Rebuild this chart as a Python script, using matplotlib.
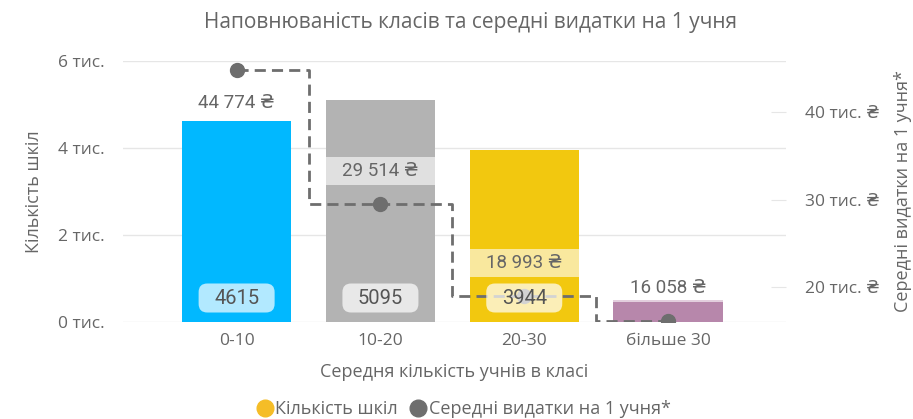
import matplotlib.pyplot as plt
from matplotlib.lines import Line2D
from matplotlib.patches import FancyBboxPatch
from matplotlib.ticker import FuncFormatter

categories = ["0-10", "10-20", "20-30", "більше 30"]
schools = [4615, 5095, 3944, 510]
spending = [44774, 29514, 18993, 16058]
bar_colors = ["#01B8FF", "#B3B3B3", "#F2C80F", "#B787AB"]

left_ticks = [0, 2000, 4000, 6000]
right_ticks = [20000, 30000, 40000]

txt = "#666666"
font = ["Open Sans", "DejaVu Sans"]
num_font = ["Roboto", "DejaVu Sans"]
plt.rcParams["font.family"] = font

fig = plt.figure(figsize=(9.13, 4.19), dpi=100)
ax = fig.add_axes([123 / 913, 1 - 322 / 419, 663 / 913, 261 / 419])
ax2 = ax.twinx()

# bars
bar_w = 0.76
x = list(range(len(categories)))
ax.bar(x, schools, width=bar_w, color=bar_colors, zorder=2)
ax.set_xlim(-0.79, 3.82)
ax.set_ylim(0, 6000)
ax.set_yticks(left_ticks)
ax.yaxis.set_major_formatter(FuncFormatter(lambda v, p: f"{int(v / 1000)} тис."))
ax.grid(axis="y", color="#E6E6E6", linewidth=1, zorder=0)
ax.set_xticks(x)
ax.set_xticklabels(categories)
for s in ax.spines.values():
    s.set_visible(False)
ax.tick_params(axis="both", length=0, colors=txt, labelsize=12.5)
ax.tick_params(axis="y", pad=13)
ax.tick_params(axis="x", pad=8, labelsize=12.5)
ax.set_ylabel("Кількість шкіл", color=txt, fontsize=13, labelpad=11)
ax.set_xlabel("Середня кількість учнів в класі", color=txt, fontsize=13, labelpad=10)

# line on secondary axis
ax2.set_ylim(16000, 45830)
ax2.plot(x, spending, drawstyle="steps-mid", color="#6E6E6E", linewidth=2,
         dashes=(4, 2.2), zorder=3)
ax2.plot(x, spending, "o", color="#6E6E6E", markersize=10, zorder=3)
ax2.set_yticks(right_ticks)
ax2.yaxis.set_major_formatter(FuncFormatter(lambda v, p: f"{int(v / 1000)} тис. ₴"))
for s in ax2.spines.values():
    s.set_visible(False)
ax2.tick_params(axis="y", direction="in", length=11, color="#E6E6E6", colors=txt,
                labelsize=12.5, pad=14)
ax2.tick_params(axis="y", color="#E6E6E6")
ax2.set_ylabel("Середні видатки на 1 учня*", color=txt, fontsize=13, labelpad=10)

# px -> data helpers
ppu_l = 261 / 6000
ppu_r = 261 / (45830 - 16000)
ppx = 663 / 4.61

# count labels in rounded boxes near the bar bottom
box_w, box_h, box_c = 76 / ppx, 29 / ppu_l, 24 / ppu_l
for xi, n in zip(x, schools):
    if n < 1500:
        continue
    p = FancyBboxPatch((xi - box_w / 2, box_c - box_h / 2), box_w, box_h,
                       boxstyle="round,pad=0,rounding_size=0.06",
                       mutation_aspect=1 / ppu_l * ppx,
                       facecolor="white", alpha=0.7, edgecolor="none",
                       transform=ax.transData, zorder=4)
    ax2.add_patch(p)
    ax2.text(xi, 16000 + 24 / ppu_r, str(n),
             ha="center", va="center", color="#555555", fontsize=14.5,
             family=num_font, zorder=5)

# spending labels with translucent bands
off = 33 / ppu_r
band_h = 28 / ppu_r
top = ax2.get_ylim()[1]
for xi, v in zip(x, spending):
    ly = v + off if v + off + band_h / 2 < top else v - off
    ax2.bar(xi, band_h, bottom=ly - band_h / 2, width=bar_w, color="white",
            alpha=0.6, zorder=2.5)
    label = f"{v:,}".replace(",", " ") + " ₴"
    ax2.text(xi, ly, label, ha="center", va="center", color="#666666",
             fontsize=13.5, family=num_font, zorder=5)

fig.text(0.515, 0.947, "Наповнюваність класів та середні видатки на 1 учня",
         ha="center", va="center", color=txt, fontsize=15)

handles = [
    Line2D([], [], marker="o", linestyle="", color="#F5BD27", markersize=12),
    Line2D([], [], marker="o", linestyle="", color="#6E6E6E", markersize=12),
]
fig.legend(handles, ["Кількість шкіл", "Середні видатки на 1 учня*"],
           loc="center left", bbox_to_anchor=(0.268, 0.024), ncol=2, frameon=False,
           handletextpad=0.0, columnspacing=0.5, fontsize=13, labelcolor=txt,
           handlelength=1.2, borderpad=0)

fig.savefig("out.png", dpi=100)
